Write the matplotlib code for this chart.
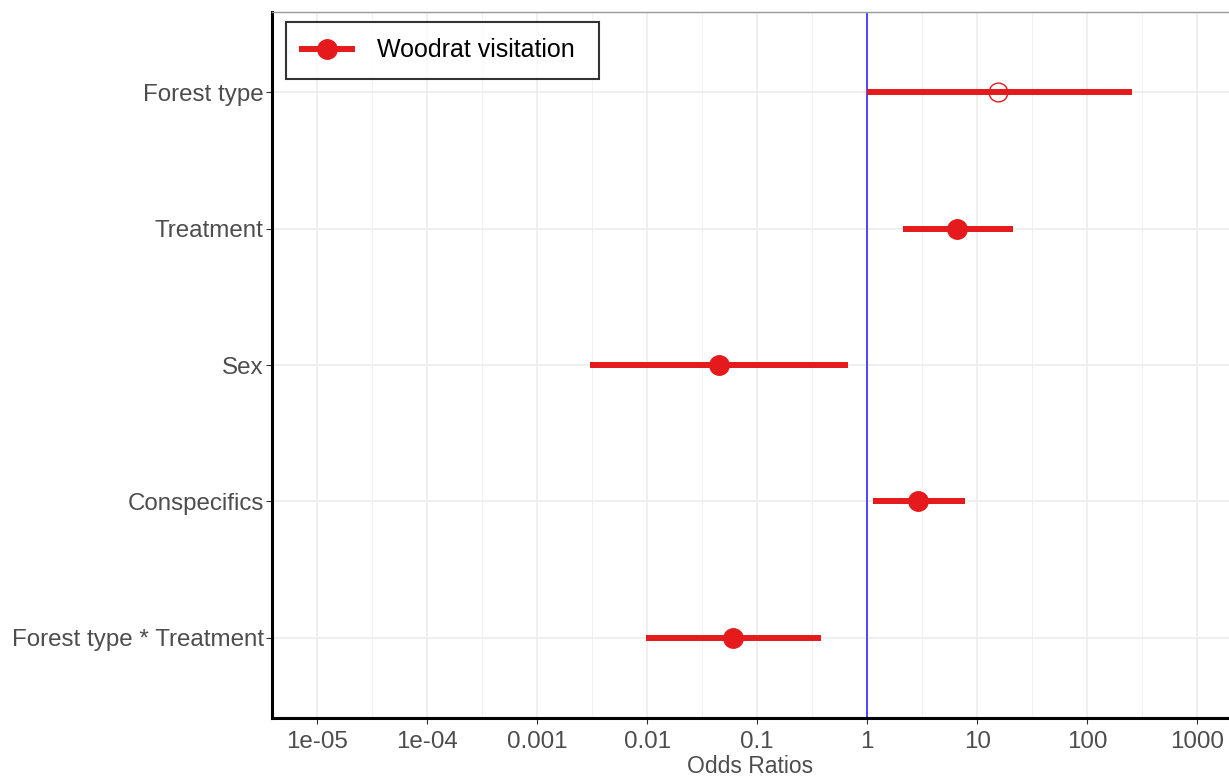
import numpy as np
import matplotlib.pyplot as plt
from matplotlib.lines import Line2D

plt.rcParams['font.family'] = ['Liberation Sans', 'DejaVu Sans']

# odds ratios, top to bottom
terms = ['Forest type', 'Treatment', 'Sex', 'Conspecifics', 'Forest type * Treatment']
odds = [15.5, 6.6, 0.045, 2.9, 0.06]
ci_low = [1.0, 2.1, 0.003, 1.13, 0.0098]
ci_high = [257, 21, 0.67, 7.8, 0.38]
significant = [False, True, True, True, True]

tick_vals = [1e-5, 1e-4, 1e-3, 1e-2, 1e-1, 1, 10, 100, 1000]
tick_labels = ['1e-05', '1e-04', '0.001', '0.01', '0.1', '1', '10', '100', '1000']

red = '#e41a1c'
grey_txt = '#4d4d4d'

fig = plt.figure(figsize=(12.29, 7.77), dpi=100)
ax = fig.add_axes([272 / 1229, 1 - 718 / 777, 957 / 1229, 706 / 777])

ypos = np.arange(len(terms))[::-1]

# grid
for v in tick_vals:
    ax.axvline(v, color='#ebebeb', lw=1.1, zorder=0)
for e in np.arange(-5.5, 4, 1.0):
    ax.axvline(10 ** e, color='#f2f2f2', lw=0.8, zorder=0)
for y in ypos:
    ax.axhline(y, color='#ebebeb', lw=1.1, zorder=0)

ax.axvline(1, color='#3b3bff', lw=1.3, zorder=1)

for y, o, lo, hi, sig in zip(ypos, odds, ci_low, ci_high, significant):
    ax.plot([lo, hi], [y, y], color=red, lw=4.3, solid_capstyle='butt', zorder=2)
    if sig:
        ax.plot(o, y, 'o', color=red, ms=14, zorder=3)
    else:
        ax.plot(o, y, 'o', mfc='none', mec=red, mew=1.0, ms=13.5, zorder=3)

ax.set_xscale('log')
ax.set_xlim(10 ** -5.41, 10 ** 3.29)
ax.set_ylim(-0.59, len(terms) - 1 + 0.59)
ax.set_xticks(tick_vals)
ax.set_xticklabels(tick_labels)
ax.xaxis.set_minor_locator(plt.NullLocator())
ax.set_yticks(ypos)
ax.set_yticklabels(terms)
ax.tick_params(axis='both', labelsize=17.4, colors='#333333', labelcolor=grey_txt,
               length=4, width=0.8, direction='out', pad=2)
ax.tick_params(axis='x', pad=5)
ax.set_xlabel('Odds Ratios', fontsize=16.5, color=grey_txt, labelpad=2)

for side in ['left', 'bottom']:
    ax.spines[side].set_linewidth(2.2)
    ax.spines[side].set_color('black')
ax.spines['top'].set_color('#999999')
ax.spines['top'].set_linewidth(1.0)
ax.spines['right'].set_visible(False)

handle = Line2D([], [], color=red, lw=4.3, marker='o', ms=14)
leg = ax.legend([handle], ['Woodrat visitation '], loc='upper left',
                bbox_to_anchor=(0.0146, 0.986), fontsize=18, frameon=True,
                fancybox=False, handlelength=2.0, handletextpad=1.0,
                borderpad=0.66, borderaxespad=0)
leg.get_frame().set_edgecolor('black')
leg.get_frame().set_linewidth(1.5)

fig.savefig('out.png', dpi=100)
